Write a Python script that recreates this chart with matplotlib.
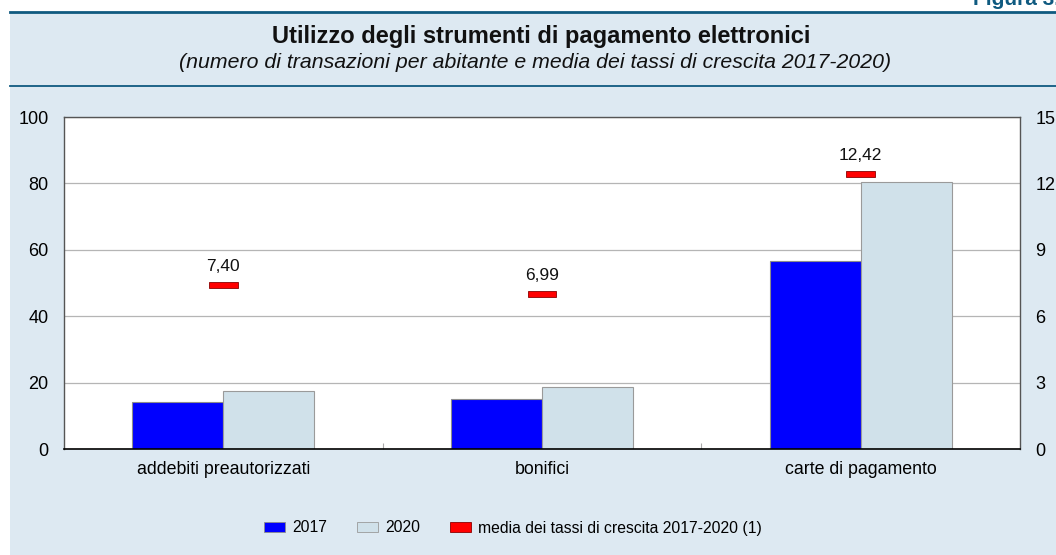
import matplotlib
matplotlib.use("Agg")
import matplotlib.pyplot as plt
import numpy as np
from matplotlib.patches import Patch, Rectangle
from matplotlib.lines import Line2D

plt.rcParams['font.family'] = ['Liberation Sans', 'DejaVu Sans']

categories = ["addebiti preautorizzati", "bonifici", "carte di pagamento"]
values_2017 = [14.2, 15.1, 56.6]
values_2020 = [17.5, 18.7, 80.4]
growth = [7.40, 6.99, 12.42]
growth_labels = ["7,40", "6,99", "12,42"]
left_ticks = [0, 20, 40, 60, 80, 100]
right_ticks = [0, 3, 6, 9, 12, 15]

BG = "#DDE9F2"
TEAL = "#0F5A80"
C2017 = "#0000FF"
C2020 = "#D0E1EA"
RED = "#FF0000"

fig = plt.figure(figsize=(10.56, 5.55), dpi=100)
fig.patch.set_facecolor("white")

# background band and lines
fig.add_artist(Rectangle((10/1056, 0), 1 - 10/1056, 1 - 13/555, transform=fig.transFigure,
                         facecolor=BG, edgecolor="none", zorder=-10))
fig.add_artist(Line2D([10/1056, 1], [1 - 12/555, 1 - 12/555], transform=fig.transFigure,
                      color=TEAL, lw=2.0))
fig.add_artist(Line2D([10/1056, 1], [1 - 86/555, 1 - 86/555], transform=fig.transFigure,
                      color=TEAL, lw=1.3))

fig.text(1.0 + 4/1056, 1 - 5/555, "Figura 3.", ha="right", va="baseline", fontsize=15,
         fontweight="bold", color=TEAL)
fig.text(541/1056, 1 - 37/555, "Utilizzo degli strumenti di pagamento elettronici",
         ha="center", va="center", fontsize=17, fontweight="bold", color="#111111")
fig.text(535/1056, 1 - 62/555,
         "(numero di transazioni per abitante e media dei tassi di crescita 2017-2020)",
         ha="center", va="center", fontsize=15.3, fontstyle="italic", color="#111111")

ax = fig.add_axes([64/1056, 1 - 449/555, (1020 - 64)/1056, (449 - 117)/555])
ax.set_facecolor("white")
x = np.arange(len(categories))
w = 0.286
ax.bar(x - w/2, values_2017, w, color=C2017, edgecolor="#8C8C8C", linewidth=0.8, zorder=3)
ax.bar(x + w/2, values_2020, w, color=C2020, edgecolor="#9A9A9A", linewidth=0.8, zorder=3)
ax.set_xlim(-0.5, len(categories) - 0.5)
ax.set_ylim(0, 100)
ax.set_yticks(left_ticks)
ax.set_yticklabels([str(t) for t in left_ticks])
ax.tick_params(axis="y", length=0, pad=11, labelsize=13)
ax.set_xticks(x)
ax.set_xticklabels(categories)
ax.tick_params(axis="x", length=0, pad=9, labelsize=12.8)
ax.set_xticks(np.arange(0.5, len(categories) - 0.5, 1), minor=True)
ax.tick_params(axis="x", which="minor", direction="in", length=4, color="#AAAAAA", width=0.8)
ax.grid(axis="y", color="#B5B5B5", linewidth=0.9, zorder=0)
for s in ["left", "top", "right"]:
    ax.spines[s].set_color("#555555")
    ax.spines[s].set_linewidth(1.0)
ax.spines["bottom"].set_color("#000000")
ax.spines["bottom"].set_linewidth(1.2)
ax.spines["bottom"].set_zorder(5)

ax2 = ax.twinx()
ax2.set_ylim(0, 15)
ax2.set_yticks(right_ticks)
ax2.set_yticklabels([str(t) for t in right_ticks])
ax2.tick_params(axis="y", length=0, pad=11, labelsize=13)
for s in ax2.spines.values():
    s.set_visible(False)
mh = 0.26
ax2.bar(x, [mh] * len(growth), 0.09, bottom=[g - mh/2 for g in growth],
        color=RED, edgecolor="#8B0000", linewidth=0.6, zorder=4)
for xi, g, lab in zip(x, growth, growth_labels):
    ax2.annotate(lab, (xi, g), xytext=(0, 8), textcoords="offset points",
                 ha="center", va="bottom", fontsize=12.5, color="#111111")

handles = [
    Patch(facecolor=C2017, edgecolor="#8C8C8C", linewidth=0.6, label="2017"),
    Patch(facecolor=C2020, edgecolor="#9A9A9A", linewidth=0.6, label="2020"),
    Patch(facecolor=RED, edgecolor="#8B0000", linewidth=0.6, label="media dei tassi di crescita 2017-2020 (1)"),
]
leg = fig.legend(handles=handles, loc="center", bbox_to_anchor=(513/1056, 1 - 528/555),
                 ncol=3, frameon=False, fontsize=11.3, handlelength=1.35, handleheight=0.55,
                 columnspacing=1.9, handletextpad=0.45)

fig.savefig("out.png", dpi=100, facecolor=fig.get_facecolor())
